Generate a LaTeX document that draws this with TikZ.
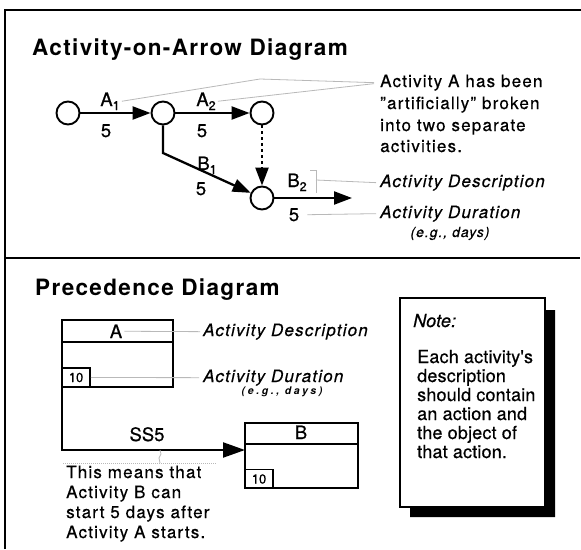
\documentclass[tikz,border=0pt]{standalone}
\usepackage{fontspec}
\setmainfont{TeX Gyre Heros}[LetterSpace=7,FakeBold=0.5]
\newfontfamily\ttlfont{TeX Gyre Heros}[LetterSpace=6]
\newfontfamily\notefont{TeX Gyre Heros}[LetterSpace=1,FakeBold=0.5]
\newfontfamily\lblfont{TeX Gyre Heros}[FakeBold=0.6]
\newfontfamily\egfont{TeX Gyre Heros}[LetterSpace=25]
\usetikzlibrary{arrows.meta}
\newcommand\myfs[1]{\fontsize{#1}{#1}\selectfont}
\newcommand\mysub[1]{\raisebox{-4pt}{\myfs{12.5}#1}}
\begin{document}
\begin{tikzpicture}[x=1pt,y=-1pt,
  evt/.style={circle,draw,line width=1.9pt,minimum size=23pt,inner sep=0pt},
  act/.style={line width=2.3pt,-{Triangle[length=18pt,width=13pt]}},
  lbl/.style={font=\lblfont\myfs{18.5},inner sep=0pt,anchor=base},
  txt/.style={font=\myfs{17},inner sep=0pt,anchor=base west},
  itxt/.style={font=\myfs{17}\itshape,inner sep=0pt,anchor=base west},
  lead/.style={gray!55,line width=0.8pt},
  ttl/.style={font=\ttlfont\myfs{22.5}\bfseries,inner sep=0pt,anchor=base west},
  box/.style={draw,line width=1.7pt},
  smallbox/.style={draw,line width=1.5pt,minimum width=28pt,minimum height=19pt,inner sep=0pt,font=\lblfont\myfs{13}},
  notetxt/.style={font=\notefont\myfs{18},inner sep=0pt,anchor=base west}
]
\useasboundingbox (0,0) rectangle (581,549);
\fill[white] (0,0) rectangle (581,549);
% frame
\draw[line width=2.2pt] (5,549) -- (5,10);
\draw[line width=2.8pt] (4,10) -- (581,10);
\draw[line width=2.8pt] (4,258) -- (580,258);

% ---------- Activity-on-Arrow ----------
\node[ttl] (ttl1) at (32,55) {Activity-on-Arrow Diagram};
\node[evt] (e1) at (68,113) {};
\node[evt] (e2) at (163,113) {};
\node[evt] (e3) at (262,113) {};
\node[evt] (e4) at (262,198) {};
\coordinate (bend) at (163,153);
\coordinate (b2end) at (352,198);
\draw[act] (e1) -- (e2);
\draw[act] (e2) -- (e3);
\draw[act] (e2.south) -- (bend) -- (e4);
\draw[act,dash pattern=on 3pt off 3pt] (e3) -- (e4);
\draw[act] (e4) -- (b2end);

\node[lbl] (a1) at (110,106) {A\mysub{1}};
\node[lbl] (d1) at (106,137) {5};
\node[lbl] (a2) at (206,106) {A\mysub{2}};
\node[lbl] (d2) at (202,137) {5};
\node[lbl] (b1) at (207,170) {B\mysub{1}};
\node[lbl] (d3) at (201,195) {5};
\node[lbl] (b2) at (297,187) {B\mysub{2}};
\node[lbl] (d4) at (294,221) {5};

\node[txt] (t1) at (380,87) {Activity A has been};
\node[txt] (t2) at (380,109) {"artificially" broken};
\node[txt] (t3) at (380,131) {into two separate};
\node[txt] (t4) at (380,152) {activities.};
\node[itxt] (desc1) at (380,187) {Activity Description};
\node[itxt] (dur1) at (380,218) {Activity Duration};
\node[font=\myfs{14}\itshape,inner sep=0pt,anchor=base] (eg1) at (450,237) {(e.g., days)};

\draw[lead] ([xshift=2pt]a1.east) -- (260,79) -- ([xshift=-6pt]t1.west);
\draw[lead] ([xshift=2pt]a2.east) -- ([xshift=-6pt,yshift=-1pt]t1.west);
\coordinate (brk) at (316,180);
\draw[lead] (310,170) -- (316,170) -- (316,193);
\draw[lead] (brk) -- ([xshift=-4pt]desc1.west);
\draw[lead] ([xshift=8pt]d4.east) -- ([xshift=-4pt]dur1.west);

% ---------- Precedence ----------
\node[ttl] (ttl2) at (35,295) {Precedence Diagram};
\draw[box] (62,320) rectangle (173,387);
\draw[box] (62,342) -- (173,342);
\node[lbl] (Alab) at (116,338) {A};
\node[smallbox] (tenA) at (76,377.5) {10};

\draw[box] (245,423) rectangle (358,488);
\draw[box] (245,444) -- (358,444);
\node[lbl] (Blab) at (301,439) {B};
\node[smallbox] (tenB) at (259,479) {10};

\coordinate (Asw) at (62,387);
\coordinate (Bin) at (245,450);
\draw[line width=2.2pt,-{Triangle[length=22pt,width=15pt]}] (Asw) -- (Asw |- Bin) -- (Bin);
\node[lbl] (ss5) at (147,441) {SS5};
\draw[lead,dash pattern=on 1pt off 1pt] (63,463) -- (217,463);
\draw[lead] (160,450) -- (161,454) -- (159,458) -- (160,463);

\node[txt] (m1) at (66,478) {This means that};
\node[txt] (m2) at (66,498) {Activity B can};
\node[txt] (m3) at (66,518) {start 5 days after};
\node[txt] (m4) at (66,538) {Activity A starts.};

\node[itxt] (desc2) at (203,336) {Activity Description};
\node[itxt] (dur2) at (203,382) {Activity Duration};
\node[font=\egfont\myfs{10.5}\bfseries\itshape,inner sep=0pt,anchor=base] (eg2) at (282,394.5) {(e.g., days)};
\draw[lead] ([xshift=2pt]Alab.east) -- ([xshift=-3pt]desc2.west);
\draw[lead] (tenA.east) -- ([xshift=-4pt]dur2.west);

% note
\fill (545,310) -- (555,310) -- (555,517) -- (410,517) -- (410,507) -- (545,507) -- cycle;
\draw[box,fill=white] (400,298) rectangle (545,507);
\node[font=\notefont\myfs{18}\itshape,inner sep=0pt,anchor=base west] (note) at (413,327) {Note:};
\node[notetxt] (n1) at (417,363) {Each activity's};
\node[notetxt] (n2) at (417,382) {description};
\node[notetxt] (n3) at (417,401) {should contain};
\node[notetxt] (n4) at (417,420) {an action and};
\node[notetxt] (n5) at (417,439) {the object of};
\node[notetxt] (n6) at (417,458) {that action.};
\end{tikzpicture}
\end{document}
